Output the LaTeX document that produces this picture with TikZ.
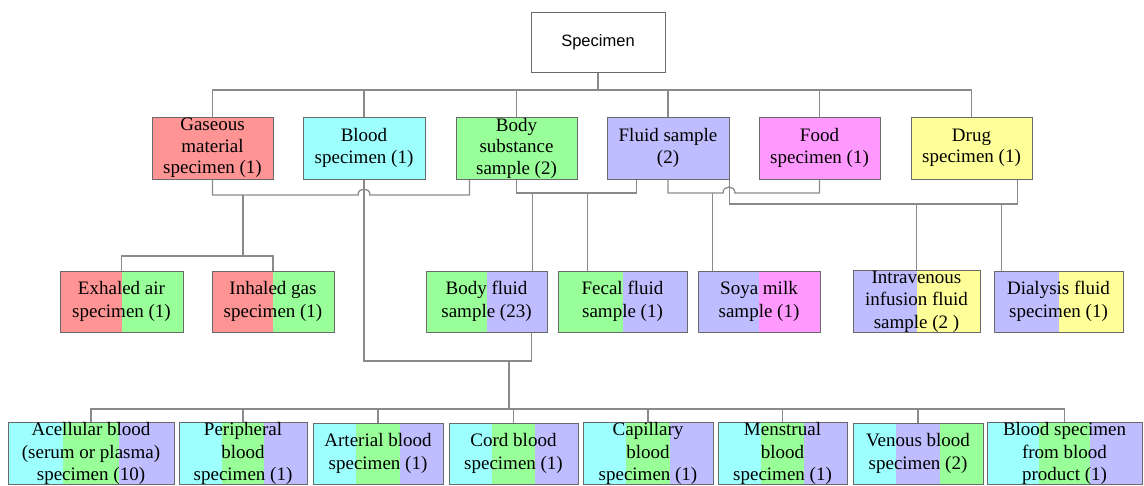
\documentclass[tikz,border=0pt]{standalone}
\usepackage{fontspec}
\setmainfont{Liberation Serif}
\newfontfamily\arialf{Liberation Sans}
\usetikzlibrary{calc}
\definecolor{cred}{HTML}{FF9494}
\definecolor{ccyan}{HTML}{9EFFFF}
\definecolor{cgreen}{HTML}{99FF99}
\definecolor{cpurple}{HTML}{BDBDFF}
\definecolor{cpink}{HTML}{FF99FF}
\definecolor{cyellow}{HTML}{FFFF99}
\definecolor{boxline}{HTML}{6A6A6A}
\definecolor{connline}{HTML}{8A8A8A}
\begin{document}
\begin{tikzpicture}[x=1pt,y=-1pt,
  box/.style={draw=boxline, line width=1pt, inner sep=0pt, minimum height=62pt,
    align=center, font=\fontsize{19}{21.5}\selectfont},
  low/.style={font=\fontsize{19}{22.5}\selectfont, minimum height=61pt},
  conn/.style={draw=connline, line width=1.3pt},
  two/.style 2 args={path picture={
    \fill[#1] (path picture bounding box.south west) rectangle (path picture bounding box.north);
    \fill[#2] (path picture bounding box.south) rectangle (path picture bounding box.north east);}},
  three/.style n args={3}{path picture={
    \fill[#1] (path picture bounding box.south west) rectangle
      ($(path picture bounding box.north west)!0.3333!(path picture bounding box.north east)$);
    \fill[#2] ($(path picture bounding box.south west)!0.3333!(path picture bounding box.south east)$) rectangle
      ($(path picture bounding box.north west)!0.6667!(path picture bounding box.north east)$);
    \fill[#3] ($(path picture bounding box.south west)!0.6667!(path picture bounding box.south east)$) rectangle
      (path picture bounding box.north east);}}
]
\useasboundingbox (0,0) rectangle (1144,485);

% root
\node[box, fill=white, minimum width=134pt, minimum height=60pt,
  font=\arialf\fontsize{16.5}{20}\selectfont] (spec) at (598,42) {Specimen};

% level 1
\node[box, fill=cred, minimum width=121pt] (gas) at (212.5,148) {Gaseous\\material\\specimen (1)};
\node[box, fill=ccyan, minimum width=122pt] (blood) at (364,148) {Blood\\specimen (1)};
\node[box, fill=cgreen, minimum width=121pt] (body) at (516.5,148) {Body\\substance\\sample (2)};
\node[box, fill=cpurple, minimum width=122pt] (fluid) at (668,148) {Fluid sample\\(2)};
\node[box, fill=cpink, minimum width=121pt] (food) at (819.5,148) {Food\\specimen (1)};
\node[box, fill=cyellow, minimum width=121pt] (drug) at (971.5,148) {Drug\\specimen (1)};

% level 2
\node[box, low, two={cred}{cgreen}, minimum width=123pt] (exh) at (121.5,301.5) {Exhaled air\\specimen (1)};
\node[box, low, two={cred}{cgreen}, minimum width=122pt] (inh) at (273,301.5) {Inhaled gas\\specimen (1)};
\node[box, low, two={cgreen}{cpurple}, minimum width=121pt] (bfl) at (486.5,301.5) {Body fluid\\sample (23)};
\node[box, low, two={cgreen}{cpurple}, minimum width=129pt] (fec) at (622.5,301.5) {Fecal fluid\\sample (1)};
\node[box, low, two={cpurple}{cpink}, minimum width=122pt] (soya) at (759,301.5) {Soya milk\\sample (1)};
\node[box, low, two={cpurple}{cyellow}, minimum width=127pt] (iv) at (916.5,301.5) {Intravenous\\infusion fluid\\sample (2 )};
\node[box, low, two={cpurple}{cyellow}, minimum width=129pt] (dia) at (1058.5,301.5) {Dialysis fluid\\specimen (1)};

% level 3
\node[box, low, three={ccyan}{cgreen}{cpurple}, minimum width=166pt] (ace) at (91,453.5) {Acellular blood\\(serum or plasma)\\specimen (10)};
\node[box, low, three={ccyan}{cgreen}{cpurple}, minimum width=128pt] (per) at (243,453.5) {Peripheral\\blood\\specimen (1)};
\node[box, low, three={ccyan}{cgreen}{cpurple}, minimum width=130pt] (art) at (378,453.5) {Arterial blood\\specimen (1)};
\node[box, low, three={ccyan}{cgreen}{cpurple}, minimum width=129pt] (cord) at (513.5,453.5) {Cord blood\\specimen (1)};
\node[box, low, three={ccyan}{cgreen}{cpurple}, minimum width=130pt] (cap) at (648,453.5) {Capillary\\blood\\specimen (1)};
\node[box, low, three={ccyan}{cgreen}{cpurple}, minimum width=129pt] (men) at (782.5,453.5) {Menstrual\\blood\\specimen (1)};
\node[box, low, three={ccyan}{cpurple}{cgreen}, minimum width=130pt] (ven) at (918,453.5) {Venous blood\\specimen (2)};
\node[box, low, three={ccyan}{cgreen}{cpurple}, minimum width=155pt] (bprod) at (1064.5,453.5) {Blood specimen\\from blood\\product (1)};

% helper levels
\coordinate (ytop) at (0,90);
\coordinate (ygas) at (0,195);
\coordinate (ybf) at (0,193);
\coordinate (ydr) at (0,204);
\coordinate (yeh) at (0,256);
\coordinate (ybl) at (0,361);
\coordinate (ybot) at (0,409);

% root to level 1
\draw[conn] (spec.south) -- (spec.south |- ytop);
\draw[conn] (gas.north) -- (gas.north |- ytop) -- (drug.north |- ytop) -- (drug.north);
\foreach \n in {blood,body,fluid,food} \draw[conn] (\n.north) -- (\n.north |- ytop);

% gaseous + body substance -> exhaled / inhaled
\coordinate (bodyL) at ($(body.south west)+(14,0)$);
\draw[conn] (gas.south) -- (gas.south |- ygas) -- (358,195)
  .. controls (358,187) and (370,187) .. (370,195) -- (bodyL |- ygas) -- (bodyL);
\coordinate (gj) at (243,195);
\draw[conn] (gj) -- (gj |- yeh);
\draw[conn] (exh.north) -- (exh.north |- yeh) -- (inh.north |- yeh) -- (inh.north);

% body substance + fluid -> body fluid, fecal fluid
\coordinate (fluidL) at ($(fluid.south west)+(30,0)$);
\draw[conn] (body.south) -- (body.south |- ybf) -- (fluidL |- ybf) -- (fluidL);
\coordinate (bflT) at ($(bfl.north east)+(-15,0)$);
\draw[conn] (bflT |- ybf) -- (bflT);
\coordinate (fecT) at ($(fec.north west)+(30,0)$);
\draw[conn] (fecT |- ybf) -- (fecT);

% fluid + food -> soya milk
\draw[conn] (fluid.south) -- (fluid.south |- ybf) -- (723,193)
  .. controls (723,185) and (735,185) .. (735,193) -- (food.south |- ybf) -- (food.south);
\coordinate (soyT) at ($(soya.north west)+(15,0)$);
\draw[conn] (soyT |- ybf) -- (soyT);

% fluid + drug -> intravenous, dialysis
\coordinate (drugR) at ($(drug.south east)+(-15,0)$);
\draw[conn] (fluid.south east) -- (fluid.south east |- ydr) -- (drugR |- ydr) -- (drugR);
\draw[conn] (iv.north |- ydr) -- (iv.north);
\coordinate (diaT) at ($(dia.north west)+(8,0)$);
\draw[conn] (diaT |- ydr) -- (diaT);

% blood + body fluid -> blood specimens
\coordinate (bflB) at ($(bfl.south east)+(-16,0)$);
\draw[conn] (blood.south) -- (blood.south |- ybl) -- (bflB |- ybl) -- (bflB);
\coordinate (bj) at (509,361);
\draw[conn] (bj) -- (bj |- ybot);
\draw[conn] (ace.north) -- (ace.north |- ybot) -- (bprod.north |- ybot) -- (bprod.north);
\foreach \n in {per,art,cord,cap,men,ven} \draw[conn] (\n.north) -- (\n.north |- ybot);
\end{tikzpicture}
\end{document}
